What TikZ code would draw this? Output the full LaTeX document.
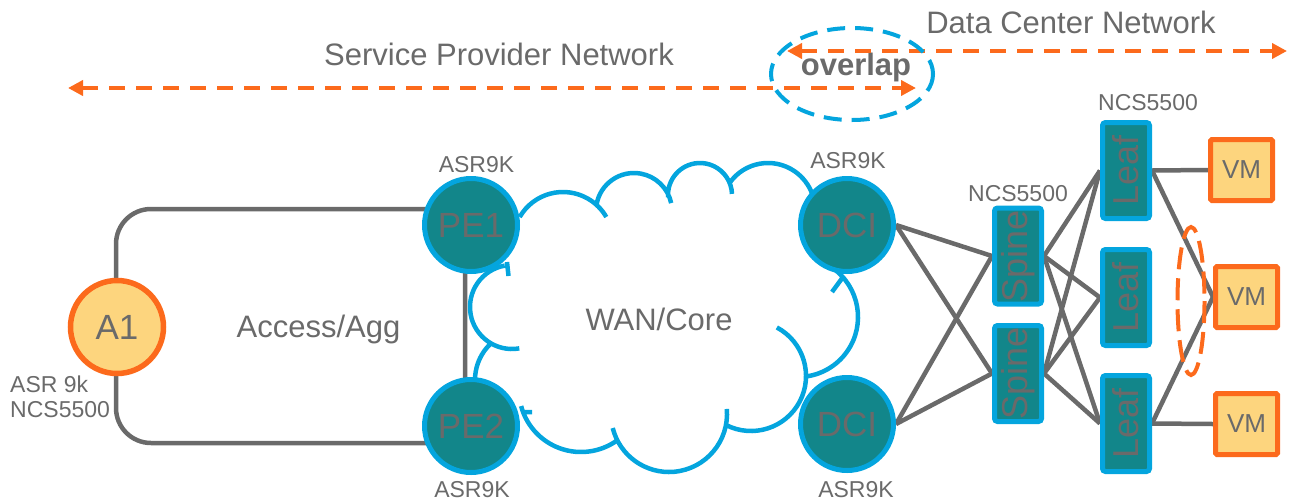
\documentclass[tikz,border=0pt]{standalone}
\usepackage{fontspec}
\usepackage{graphicx}
\setmainfont{Liberation Sans}
\usetikzlibrary{arrows.meta,backgrounds}
\definecolor{cteal}{HTML}{12868A}
\definecolor{cblue}{HTML}{04A5DE}
\definecolor{corange}{HTML}{FC6A1C}
\definecolor{cyellow}{HTML}{FDD57E}
\definecolor{cgray}{HTML}{6A6A6A}
\begin{document}
\begin{tikzpicture}[x=1pt,y=-1pt,
  txt/.style={text=cgray,inner sep=0pt,font=\fontsize{#1}{#1}\selectfont},
  router/.style={circle,draw=cblue,fill=cteal,line width=5pt,minimum size=93pt,inner sep=0pt,text=cgray,font=\fontsize{35}{35}\selectfont},
  access/.style={circle,draw=corange,fill=cyellow,line width=5.5pt,minimum size=93pt,inner sep=0pt,text=cgray,font=\fontsize{35}{35}\selectfont},
  fabric/.style={rectangle,rounded corners=3pt,draw=cblue,fill=cteal,line width=5pt,minimum width=47pt,minimum height=96pt,inner sep=0pt,text=cgray,font=\fontsize{36}{36}\selectfont},
  vmbox/.style={rectangle,rounded corners=1.5pt,draw=corange,fill=cyellow,line width=5pt,minimum width=62pt,minimum height=61pt,inner sep=0pt,text=cgray,font=\fontsize{26}{26}\selectfont},
  link/.style={draw=cgray,line width=4.5pt},
  cloudline/.style={draw=cblue,line width=4.5pt},
  span/.style={draw=corange,line width=4.5pt,dash pattern=on 15.5pt off 11.5pt,{Triangle[length=15pt,width=15pt]}-{Triangle[length=15pt,width=15pt]}}
]
\useasboundingbox (0,0) rectangle (1289,501);

% titles
\node[txt=31,anchor=base] (spn) at (499,65) {Service Provider Network};
\node[txt=31,anchor=base] (dcn) at (1071,33) {Data Center Network};
\node[txt=31,anchor=base,font=\fontsize{31}{31}\selectfont\bfseries] (ovl) at (856,75) {overlap};

% routers
\node[access] (A1) at (117,327) {A1};
\node[router] (PE1) at (471,225) {PE1};
\node[router] (PE2) at (471,426) {PE2};
\node[router] (DCI1) at (847,225) {DCI};
\node[router] (DCI2) at (847,424) {DCI};

% fabric
\node[fabric] (S1) at (1018,256) {\rotatebox{90}{Spine}};
\node[fabric] (S2) at (1018,373.5) {\rotatebox{90}{Spine}};
\node[fabric] (L1) at (1126,170.5) {\rotatebox{90}{Leaf}};
\node[fabric] (L2) at (1126,297.5) {\rotatebox{90}{Leaf}};
\node[fabric] (L3) at (1126,423.5) {\rotatebox{90}{Leaf}};
\node[vmbox] (VM1) at (1241.5,170) {VM};
\node[vmbox] (VM2) at (1246.5,297) {VM};
\node[vmbox] (VM3) at (1246.5,424) {VM};

% labels
\node[txt=31,anchor=base] (agglbl) at (318.5,337) {Access/Agg};
\node[txt=31,anchor=base] (wanlbl) at (659,330) {WAN/Core};
\node[txt=23,anchor=base] (pe1lbl) at (476.5,172) {ASR9K};
\node[txt=23,anchor=base] (pe2lbl) at (472,497) {ASR9K};
\node[txt=23,anchor=base] (dci1lbl) at (848,168) {ASR9K};
\node[txt=23,anchor=base] (dci2lbl) at (856,497) {ASR9K};
\node[txt=23,anchor=base] (spinelbl) at (1018,201) {NCS5500};
\node[txt=23,anchor=base] (leaflbl) at (1148,110) {NCS5500};
\node[txt=23,anchor=base west] (a1lblA) at (10,392) {ASR 9k};
\node[txt=23,anchor=base west] (a1lblB) at (10,417) {NCS5500};

% span arrows
\coordinate (spL) at (68,88);
\coordinate (spR) at (916,88);
\coordinate (dcL) at (787,51);
\coordinate (dcR) at (1287,51);
\draw[span] (spL) -- (spR);
\draw[span] (dcL) -- (dcR);

% overlap ring
\draw[cblue,line width=4pt,dash pattern=on 18pt off 10pt] (852,74) ellipse [x radius=81, y radius=46];
% VM multihoming ring
\draw[corange,line width=4pt,dash pattern=on 22pt off 9pt] (1191,301) ellipse [x radius=13.5, y radius=74];

\begin{scope}[on background layer]
  \node[draw=cgray,line width=4.5pt,rounded corners=35pt,minimum width=349pt,minimum height=234pt,inner sep=0pt] (agg) at (290.5,326) {};
  % cloud
  \draw[cloudline]
    (563,242) ++(-150:50) arc[start angle=-150,end angle=-30,radius=50]
    (634,211) ++(-170:38) arc[start angle=-170,end angle=-12,radius=38]
    (700,195) ++(-184:32) arc[start angle=-184,end angle=-2,radius=32]
    (768,210) ++(-145:47) arc[start angle=-145,end angle=-20,radius=47]
    (798,317) ++(-55:60) arc[start angle=-55,end angle=84,radius=60]
    (751,376) ++(-62:55) arc[start angle=-62,end angle=117,radius=55]
    (669,414) ++(-5:58) arc[start angle=-5,end angle=166,radius=58]
    (581,390) ++(54:62) arc[start angle=54,end angle=165,radius=62]
    (525,380) ++(160:50) arc[start angle=160,end angle=228,radius=50]
    (512,307) ++(-100:42) arc[start angle=-100,end angle=-280,radius=42]
    (507,262) -- (508.5,276)
    (832,292) -- (843,277)
    (523,412) -- (532,412);
  % links
  \draw[link] (DCI1.east) -- (S1.west);
  \draw[link] (DCI1.east) -- (S2.west);
  \draw[link] (DCI2.east) -- (S1.west);
  \draw[link] (DCI2.east) -- (S2.west);
  \foreach \s in {S1,S2}{
    \foreach \l in {L1,L2,L3}{
      \draw[link] (\s.east) -- (\l.west);
    }
  }
  \draw[link] (L1.east) -- (VM1.west);
  \draw[link] (L1.east) -- (VM2.west);
  \draw[link] (L3.east) -- (VM2.west);
  \draw[link] (L3.east) -- (VM3.west);
\end{scope}
\end{tikzpicture}
\end{document}
